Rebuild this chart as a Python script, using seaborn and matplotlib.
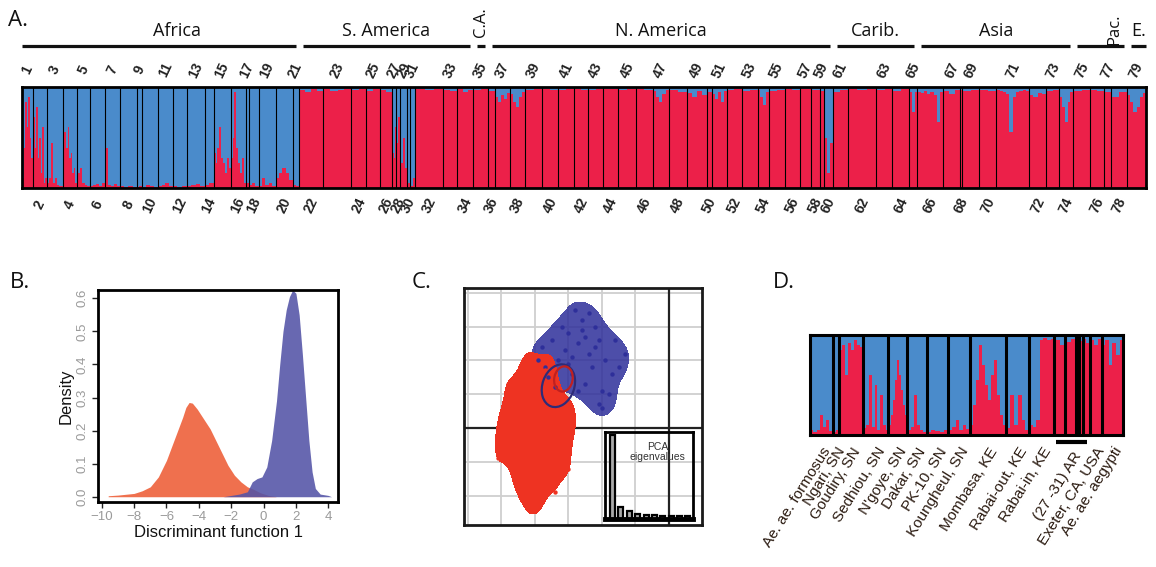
import numpy as np
import pandas as pd
import matplotlib
matplotlib.use("Agg")
import matplotlib.pyplot as plt
import matplotlib.transforms as mtransforms
from matplotlib.patches import Ellipse
from matplotlib.colors import ListedColormap
import seaborn as sns

# ------------------------------------------------------------------ data
# Panel A: 79 populations, width ~ number of individuals
pop_widths = [11, 14, 16, 14, 13, 15, 15, 17, 5, 16, 15, 14, 18, 9, 17, 15, 3, 10, 17, 17, 6,
              25, 28, 15, 14, 12, 4, 4, 7, 3, 5, 28, 14, 16,
              15,
              7, 15, 15, 17, 16, 16, 14, 15, 15, 18, 17, 16, 18, 20, 5, 15, 15, 16, 11, 16, 15, 11, 9, 4, 9,
              15, 29, 16, 17, 8,
              26, 17, 2, 17, 17, 33, 17, 13, 14,
              17, 14, 7, 16,
              19]

# red (aegypti-type) ancestry share of the individuals of each population
africa_red = [
    [0.1, 0.4, 0.85, 0.6, 0.9, 0.5, 0.3], [0.7, 0.4, 0.8, 0.3, 0.5, 0.15, 0.6, 0.05, 0.1],
    [0.05, 0.1, 0.45, 0.05, 0.1, 0.03, 0.02, 0.02], [0.3, 0.55, 0.4, 0.6, 0.3, 0.35, 0.15, 0.2, 0.05],
    [0.15, 0.2, 0.05, 0.03, 0.02], [0.02, 0.03, 0.04, 0.02, 0.05], [0.4, 0.03, 0.02, 0.04, 0.02],
    [0.02, 0.01, 0.02, 0.01], [0.01, 0.02], [0.01, 0.03, 0.02, 0.01], [0.02, 0.03, 0.05, 0.02],
    [0.02, 0.01, 0.02], [0.02, 0.03, 0.04, 0.02], [0.03, 0.05],
    [0.35, 0.25, 0.4, 0.6, 0.3, 0.25, 0.15, 0.3, 0.2], [0.3, 0.5, 0.95, 0.4, 0.25, 0.15, 0.3, 0.05],
    [0.05], [0.03, 0.05, 0.02], [0.02, 0.1, 0.03, 0.05, 0.02], [0.1, 0.15, 0.2, 0.15, 0.08], [0.03, 0.02]]
samerica_red = [
    [0.97, 0.95, 0.98, 0.96], [0.98, 0.96, 0.97, 0.98], [0.97, 0.98], [0.96, 0.98], [0.97, 0.95],
    [0.35, 0.3, 0.6], [0.45, 0.7], [0.25, 0.5, 0.2], [0.05], [0.02, 0.1],
    [0.98, 0.97, 0.98], [0.97, 0.96], [0.98, 0.95, 0.97]]
camerica_red = [[0.97, 0.98]]
namerica_red = [
    [0.96], [0.9, 0.85, 0.92, 0.88, 0.94], [0.93, 0.85, 0.8, 0.9, 0.95], [0.97, 0.98], [0.98, 0.97],
    [0.97, 0.98], [0.98, 0.97], [0.97, 0.98], [0.98], [0.97, 0.98], [0.98, 0.97],
    [0.96, 0.9, 0.85, 0.93, 0.97], [0.97, 0.95], [0.94, 0.9, 0.96, 0.92], [0.95],
    [0.93, 0.88, 0.95, 0.85, 0.96], [0.97, 0.98], [0.96, 0.97], [0.97, 0.9, 0.82, 0.95],
    [0.96, 0.97], [0.98, 0.97], [0.98], [0.97], [0.96], [0.5, 0.15, 0.45]]
carib_red = [[0.95, 0.97], [0.98, 0.97, 0.98], [0.97, 0.98], [0.96, 0.98], [0.95, 0.75, 0.95]]
asia_red = [[0.95, 0.94, 0.96, 0.93, 0.95, 0.92, 0.65, 0.95], [0.96, 0.93, 0.97], [0.97],
            [0.96, 0.97], [0.97, 0.96],
            [0.97, 0.96, 0.95, 0.93, 0.55, 0.9, 0.95, 0.96, 0.97, 0.96], [0.92, 0.9, 0.94, 0.93],
            [0.96, 0.97], [0.9, 0.8, 0.65, 0.85, 0.95]]
pacific_red = [[0.96, 0.97], [0.97, 0.96], [0.95], [0.9, 0.95]]
europe_red = [[0.92, 0.85, 0.75, 0.8, 0.9, 0.94]]

region_names = ["Africa", "S. America", "C.A.", "N. America", "Carib.", "Asia", "Pac.", "E."]
region_sizes = [21, 13, 1, 25, 5, 9, 4, 1]

# Panel B: density of discriminant function 1
df_orange_x = [-9.6, -9.0, -8.0, -7.5, -7.0, -6.5, -6.0, -5.5, -5.0, -4.8, -4.6, -4.4, -4.1, -3.7,
               -3.3, -3.0, -2.6, -2.2, -1.8, -1.4, -1.0, -0.6, -0.2, 0.3, 0.8]
df_orange_d = [0.003, 0.005, 0.010, 0.018, 0.030, 0.060, 0.110, 0.175, 0.240, 0.270, 0.285, 0.283,
               0.265, 0.235, 0.205, 0.175, 0.135, 0.095, 0.065, 0.045, 0.030, 0.022, 0.012, 0.004, 0.0]
df_blue_x = [-2.5, -2.0, -1.5, -1.0, -0.7, -0.4, -0.1, 0.2, 0.5, 0.8, 1.0, 1.2, 1.4, 1.6, 1.8, 2.0,
             2.2, 2.4, 2.6, 2.8, 3.0, 3.2, 3.5, 4.0, 4.2]
df_blue_d = [0.0, 0.004, 0.008, 0.015, 0.045, 0.055, 0.06, 0.09, 0.17, 0.29, 0.40, 0.50, 0.565, 0.605,
             0.625, 0.615, 0.55, 0.43, 0.30, 0.17, 0.075, 0.025, 0.008, 0.004, 0.0]

# Panel C: PCA scatter (read approximately)
pca_red_x = [-4.0, -4.3, -3.7, -4.5, -3.5, -4.1, -3.9, -4.6, -3.3, -4.2, -3.8, -4.4, -3.6, -4.0, -4.7,
             -3.4, -4.1, -3.9, -4.3, -3.7, -4.8, -3.2, -4.0, -4.5, -3.6, -4.2, -3.8, -4.0, -3.9, -4.4,
             -5.0, -3.0, -4.1, -3.5, -4.6, -3.3, -4.3, -3.9, -3.7, -4.2, -4.9, -3.1, -4.4, -3.6,
             -5.1, -2.9, -4.2, -3.4, -4.8, -3.0]
pca_red_y = [0.0, -0.5, 0.5, 0.2, -0.3, 1.0, -1.0, -0.8, 0.8, -1.5, 1.4, 0.7, -1.2, -2.0, -0.2,
             0.1, 0.4, -0.6, 1.2, 1.7, 0.3, -0.5, -1.8, -1.3, 0.9, -0.9, 0.0, 1.5, -1.6, -0.1,
             -0.4, 0.6, -2.2, 1.9, 0.9, -1.0, 0.5, 0.2, -0.7, 1.6, 0.1, -0.2, -1.7, 1.1,
             -0.9, 0.2, 2.0, -1.9, 1.3, -1.2]
pca_blue_x = [-2.7, -3.0, -2.4, -3.3, -2.1, -2.6, -2.9, -2.3, -3.5, -1.9, -2.8, -2.5, -3.1, -2.2, -1.7,
              -3.6, -2.6, -2.0, -2.9, -3.8, -2.4, -1.5, -3.2, -2.7, -2.2, -1.8, -3.4, -2.5, -3.0, -2.1,
              -1.3, -3.9, -2.0, -1.6, -3.7]
pca_blue_y = [2.5, 2.8, 2.2, 2.0, 2.6, 3.2, 1.6, 1.8, 2.6, 2.0, 3.5, 1.3, 2.3, 3.0, 1.6,
              1.5, 2.9, 1.1, 2.1, 2.4, 3.4, 1.8, 3.0, 1.1, 2.4, 1.0, 1.2, 2.7, 1.9, 0.7,
              2.2, 2.0, 0.6, 2.6, 1.8]
ellipse_blue = (-3.3, 1.25, 0.95, 1.3, -20)   # cx, cy, width, height, angle
ellipse_red = (-3.15, 1.45, 0.55, 0.75, -10)
eigenvalues = [1.0, 0.14, 0.09, 0.065, 0.05, 0.045, 0.04, 0.035, 0.03, 0.03]

# Panel D
d_labels = ["Ae. ae. formosus", "Ngari, SN", "Goudiry, SN", "Sedhiou, SN", "N'goye, SN", "Dakar, SN",
            "PK-10, SN", "Koungheul, SN", "Mombasa, KE", "Rabai-out, KE", "Rabai-in, KE",
            "(27 -31) AR", "Exeter, CA, USA", "Ae. ae. aegypti"]
d_label_groups = [1, 1, 1, 1, 1, 1, 1, 1, 1, 1, 1, 5, 1, 1]
d_widths = [22.7, 6.7, 24, 25, 19, 19.3, 21.7, 21.7, 36, 23.3, 24.7, 11, 11, 3.3, 3.3, 7.3, 11.7, 21.7]
d_red = [[0.05, 0.03, 0.05, 0.2, 0.08, 0.15, 0.04],
         [0.03, 0.05],
         [0.85, 0.9, 0.6, 0.92, 0.85, 0.95, 0.9, 0.88],
         [0.07, 0.1, 0.6, 0.08, 0.5, 0.05, 0.4, 0.1, 0.05],
         [0.1, 0.2, 0.35, 0.55, 0.75, 0.6, 0.45, 0.3, 0.2],
         [0.05, 0.08, 0.4, 0.1, 0.05, 0.03],
         [0.03, 0.05, 0.04, 0.03, 0.05],
         [0.05, 0.08, 0.15, 0.05, 0.1, 0.06],
         [0.1, 0.3, 0.55, 0.9, 0.7, 0.5, 0.35, 0.6, 0.75, 0.4, 0.2, 0.1],
         [0.07, 0.4, 0.1, 0.4, 0.15, 0.05],
         [0.1, 0.08, 0.15, 0.95, 0.97, 0.95, 0.96],
         [0.95, 0.9], [0.93, 0.96], [0.95], [0.94], [0.96, 0.92],
         [0.95, 0.9, 0.96],
         [0.9, 0.95, 0.7, 0.92, 0.8, 0.95]]

# ------------------------------------------------------------------ style
sns.set_theme(style="white")
plt.rcParams["font.family"] = ["Liberation Sans", "DejaVu Sans"]

RED = "#EC2049"
BLUE = "#4A8BCB"
W, H = 1156, 567
fig = plt.figure(figsize=(W / 100, H / 100), dpi=100)
fig.patch.set_facecolor("white")


def fx(p):
    return p / W


def fy(p):
    return 1 - p / H


def structure_bars(ax, widths, shares):
    edges = np.concatenate([[0], np.cumsum(widths)])
    lefts, ws, rs = [], [], []
    for i, vals in enumerate(shares):
        w = widths[i] / len(vals)
        for j, v in enumerate(vals):
            lefts.append(edges[i] + j * w)
            ws.append(w * 1.01)
            rs.append(v)
    rs = np.array(rs)
    ax.bar(lefts, rs, width=ws, align="edge", color=RED, linewidth=0, antialiased=False)
    ax.bar(lefts, 1 - rs, bottom=rs, width=ws, align="edge", color=BLUE, linewidth=0, antialiased=False)
    ax.set_xlim(0, edges[-1])
    ax.set_ylim(0, 1)
    ax.set_xticks([])
    ax.set_yticks([])
    return edges


# ------------------------------------------------------------------ Panel A
axA = fig.add_axes([fx(22), fy(188), fx(1146) - fx(22), fy(87) - fy(188)])
all_red = africa_red + samerica_red + camerica_red + namerica_red + carib_red + asia_red + pacific_red + europe_red
edgesA = structure_bars(axA, pop_widths, all_red)
axA.vlines(edgesA[1:-1], 0, 1, color="black", lw=0.8)
for s in axA.spines.values():
    s.set_linewidth(2.0)
    s.set_color("black")
transA = mtransforms.blended_transform_factory(axA.transData, axA.transAxes)
for i in range(len(pop_widths)):
    c = (edgesA[i] + edgesA[i + 1]) / 2
    y = 1.168 if (i + 1) % 2 == 1 else -0.168
    axA.text(c, y, str(i + 1), transform=transA, rotation=65, ha="center", va="center",
             fontsize=10, fontweight="bold", color="#222222")

start = 0
for k, (name, n) in enumerate(zip(region_names, region_sizes)):
    a = edgesA[start]
    b = edgesA[start + n]
    a_draw = a + (0 if k == 0 else 4)
    b_draw = b - (0 if k == len(region_names) - 1 else 3)
    axA.plot([a_draw, b_draw], [1.406, 1.406], transform=transA, clip_on=False, color="#111111",
             lw=2.3, solid_capstyle="butt")
    mid = (a_draw + b_draw) / 2
    if name == "C.A.":
        axA.text(mid, 1.64, name, transform=transA, rotation=90, ha="center", va="center",
                 fontsize=12, family=["Open Sans", "DejaVu Sans"], color="#111111")
    elif name == "Pac.":
        axA.text(b_draw - 10, 1.57, name, transform=transA, rotation=90, ha="center", va="center",
                 fontsize=12, family=["Open Sans", "DejaVu Sans"], color="#111111")
    else:
        if name == "Africa":
            mid += 18
        axA.text(mid, 1.55, name, transform=transA, ha="center", va="center",
                 fontsize=13, family=["Open Sans", "DejaVu Sans"], color="#111111")
    start += n

for lab, x, y in [("A.", 8, 20), ("B.", 10, 282), ("C.", 412, 282), ("D.", 773, 282)]:
    fig.text(fx(x), fy(y), lab, fontsize=16, va="center", ha="left",
             family=["Open Sans", "DejaVu Sans"], color="#111111")

# ------------------------------------------------------------------ Panel B
axB = fig.add_axes([fx(98), fy(501.7), fx(338) - fx(98), fy(290) - fy(501.7)])
axB.fill_between(df_orange_x, 0, df_orange_d, color="#EF6844", linewidth=0, alpha=0.95)
axB.fill_between(df_blue_x, 0, df_blue_d, color="#5353A6", linewidth=0, alpha=0.88)
axB.set_xlim(-10.23, 4.6)
axB.set_ylim(-0.015, 0.625)
axB.set_xticks(list(range(-10, 5, 2)))
axB.set_yticks([0.0, 0.1, 0.2, 0.3, 0.4, 0.5, 0.6])
axB.set_yticklabels(["0.0", "0.1", "0.2", "0.3", "0.4", "0.5", "0.6"], rotation=90, va="center")
axB.tick_params(axis="both", which="both", bottom=True, left=True, direction="out", length=4,
                width=1, color="#222222", labelsize=9.5, labelcolor="#9a9a9a", pad=3)
axB.set_xlabel("Discriminant function 1", fontsize=12, color="#111111", labelpad=1)
axB.set_ylabel("Density", fontsize=12, color="#111111", labelpad=2)
for s in axB.spines.values():
    s.set_linewidth(2.0)
    s.set_color("black")

# ------------------------------------------------------------------ Panel C
C_BLUE = "#2E2F9A"
C_RED = "#EE3322"
axC = fig.add_axes([fx(464), fy(525), fx(702) - fx(464), fy(288) - fy(525)])
axC.set_xlim(-6.12, 0.99)
axC.set_ylim(-2.87, 4.14)
for v in range(-6, 1):
    axC.axvline(v, color="#cfcfcf", lw=1.3, zorder=0)
for v in range(-2, 5):
    axC.axhline(v, color="#cfcfcf", lw=1.3, zorder=0)
axC.axvline(0, color="#222222", lw=1.6, zorder=0.5)
axC.axhline(0, color="#222222", lw=1.6, zorder=0.5)
red_df = pd.DataFrame({"x": pca_red_x, "y": pca_red_y})
blue_df = pd.DataFrame({"x": pca_blue_x, "y": pca_blue_y})
sns.kdeplot(data=blue_df, x="x", y="y", fill=True, levels=[0.18, 1], cmap=ListedColormap([C_BLUE]),
            alpha=0.85, bw_adjust=0.85, ax=axC)
sns.kdeplot(data=red_df, x="x", y="y", fill=True, levels=[0.15, 1], cmap=ListedColormap([C_RED]),
            alpha=1, bw_adjust=0.8, ax=axC)
sns.scatterplot(data=blue_df, x="x", y="y", color=C_BLUE, s=10, linewidth=0, ax=axC, zorder=3)
sns.scatterplot(data=red_df, x="x", y="y", color=C_RED, s=10, linewidth=0, ax=axC, zorder=3)
for (cx, cy, w, h, ang), col in [(ellipse_blue, "#2E2B78"), (ellipse_red, "#C02020")]:
    axC.add_patch(Ellipse((cx, cy), w, h, angle=ang, fill=False, edgecolor=col, lw=1.6, zorder=5))
axC.set_xlim(-6.12, 0.99)
axC.set_ylim(-2.87, 4.14)
axC.set_xticks([])
axC.set_yticks([])
axC.set_xlabel("")
axC.set_ylabel("")
for s in axC.spines.values():
    s.set_linewidth(2.0)
    s.set_color("#1a1a1a")

axI = fig.add_axes([fx(605), fy(519), fx(693) - fx(605), fy(432) - fy(519)])
axI.patch.set_alpha(0)
eig_df = pd.DataFrame({"k": [str(i) for i in range(len(eigenvalues))], "v": eigenvalues})
sns.barplot(data=eig_df, x="k", y="v", color="#aaaaaa", edgecolor="black", linewidth=1.6,
            width=0.6, saturation=1, ax=axI)
axI.set_xlim(-0.9, len(eigenvalues) - 0.4)
axI.set_ylim(0, 1.04)
axI.set_xticks([])
axI.set_yticks([])
axI.set_xlabel("")
axI.set_ylabel("")
axI.text(0.6, 0.88, "PCA\neigenvalues", transform=axI.transAxes, ha="center", va="top",
         fontsize=7.5, color="#333333", linespacing=1.0)
for s in axI.spines.values():
    s.set_linewidth(2.0)
    s.set_color("black")
axI.spines["bottom"].set_linewidth(3.5)

# ------------------------------------------------------------------ Panel D
axD = fig.add_axes([fx(810), fy(435), fx(1123.3) - fx(810), fy(335) - fy(435)])
edgesD = structure_bars(axD, d_widths, d_red)
axD.vlines(edgesD[1:-1], 0, 1, color="black", lw=2.2)
for s in axD.spines.values():
    s.set_linewidth(2.2)
    s.set_color("black")
transD = mtransforms.blended_transform_factory(axD.transData, axD.transAxes)
g = 0
for lab, n in zip(d_labels, d_label_groups):
    a, b = edgesD[g], edgesD[g + n]
    if n > 1:
        axD.plot([a + 2, b - 3], [-0.07, -0.07], transform=transD, clip_on=False, color="black",
                 lw=3, solid_capstyle="butt")
        ytop = -0.14
    else:
        ytop = -0.1
    axD.text((a + b) / 2, ytop, lab, transform=transD, rotation=58, rotation_mode="anchor",
             ha="right", va="top", fontsize=11, color="#2a1a10")
    g += n

fig.savefig("out.png", dpi=100, facecolor="white")
